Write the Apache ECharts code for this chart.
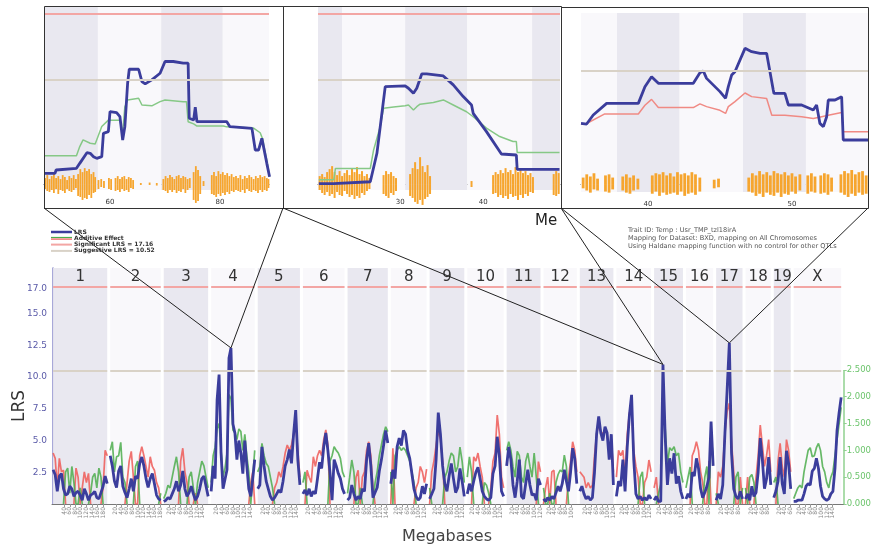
<!DOCTYPE html>
<html>
<head>
<meta charset="utf-8">
<title>LRS genome scan</title>
<script src="https://cdn.jsdelivr.net/npm/echarts@6/dist/echarts.min.js"></script>
<style>
  html, body { margin: 0; padding: 0; background: #fff; }
  #main { width: 874px; height: 550px; }
</style>
</head>
<body>
<div id="main"></div>
<script>
// ---- data ----
var chrNames   = ['1','2','3','4','5','6','7','8','9','10','11','12','13','14','15','16','17','18','19','X'];
var chrLengths = [195,182,160,157,152,150,145,129,125,131,122,120,121,125,104,98,95,91,61,171];
var sigLRS = 17.16, sugLRS = 10.52;
var lrsTicks = [2.5, 5, 7.5, 10, 12.5, 15, 17];
var addTicks = [0, 0.5, 1, 1.5, 2, 2.5];

// LRS samples along each chromosome (evenly spaced from 0 to chromosome end)
var lrsByChr = [
  [2.7,2.3,1.0,2.2,2.4,1.2,0.7,0.8,1.4,1.2,0.6,0.9,1.0,0.7,0.3,1.2,0.8,0.3,0.7,0.8,1.0,0.5,0.4,0.9,1.4,2.2,1.6],
  [3.8,3.0,1.8,1.3,2.6,3.0,1.4,0.9,0.5,1.2,2.0,1.0,2.2,2.0,3.2,3.7,3.0,2.0,1.3,2.0,2.4,1.6,0.7,0.4,0.3],
  [0.2,0.3,0.5,0.4,0.8,1.2,1.8,1.0,1.5,2.6,1.2,0.6,0.9,1.4,0.8,0.3,0.6,1.2,2.0,2.2,1.4,0.6],
  [1.0,3.0,2.0,8.2,10.2,4.0,1.2,1.1,2.7,11.5,12.3,6.3,5.6,3.5,5.0,4.0,2.4,5.0,3.0,1.2,0.6,2.0,3.5],
  [1.2,1.5,4.5,3.0,1.8,1.2,0.6,0.3,0.5,0.8,1.1,0.9,1.8,3.0,3.5,4.3,3.2,5.5,7.4,3.5,1.5],
  [0.8,1.1,0.7,1.2,0.6,1.0,0.8,2.0,3.3,2.8,4.5,5.6,4.2,2.5,0.3,3.5,3.0,2.4,2.0,1.2,0.8],
  [0.3,0.5,1.5,0.8,0.3,0.6,0.4,1.2,1.0,3.5,4.8,3.0,0.5,0.9,1.3,2.6,3.5,4.6,5.8,4.8],
  [1.6,2.7,2.0,4.5,5.2,4.6,5.8,5.5,4.2,3.6,2.4,1.2,0.6,0.3,0.5,1.4,0.8,1.6],
  [0.4,0.8,1.2,3.5,7.2,5.5,3.0,1.6,1.0,2.2,3.2,2.0,0.9,1.3,2.8,1.8,0.6],
  [0.8,1.6,1.0,1.8,2.5,2.9,2.0,1.0,0.6,0.4,0.3,0.5,2.4,3.0,5.3,3.8,1.0,0.6],
  [3.0,4.5,3.5,1.5,0.5,1.8,3.5,0.6,0.4,1.6,2.7,1.5,0.7,0.8,0.3,2.0,1.5],
  [0.4,0.2,0.5,0.3,0.6,0.4,0.9,1.4,1.0,1.6,2.7,1.8,1.0,2.5,4.4,3.6,1.6],
  [1.0,1.4,0.8,0.4,0.6,0.3,0.5,2.5,5.5,6.9,5.6,5.0,6.1,5.6,3.5,5.5,1.5],
  [0.6,1.8,1.4,3.5,1.0,4.5,7.0,8.6,3.5,0.8,0.4,0.6,0.3,0.5,0.3,0.7,0.4],
  [0.3,0.6,0.2,0.2,11.0,5.3,1.5,3.6,2.4,4.0,1.6,2.2,1.0,0.4],
  [0.4,0.8,0.5,2.5,2.2,3.6,2.8,1.2,0.5,0.9,1.4,2.1,6.5,3.0],
  [0.3,0.8,0.4,1.5,5.6,9.0,12.7,4.0,1.2,0.6,0.4,1.0,0.4],
  [0.4,0.8,0.3,1.4,0.6,0.9,2.5,5.2,3.5,1.2,2.0,3.7,1.5],
  [0.5,1.0,1.8,3.7,1.6,0.8,4.2,3.2,1.2],
  [0.2,0.2,0.3,0.3,0.3,0.8,1.4,1.6,1.5,2.6,2.8,3.6,2.8,1.4,0.6,0.4,0.3,0.4,0.8,1.0,2.8,5.8,7.2,8.4]
];

// additive effect samples: positive drawn green, negative drawn red
var addByChr = [
  [-0.95,-0.85,-0.3,-0.85,-0.6,-0.63,0.6,0.67,0.2,0.7,0.4,-0.67,-0.5,0.3,-0.3,-0.6,-0.4,-0.57,0.2,0.5,0.57,0.3,0.67,0.5,-0.3,-1.0,-0.9],
  [1.0,1.16,0.6,0.88,0.9,1.15,0.5,0.4,-0.4,-0.8,-0.98,-0.5,0.7,0.8,-0.9,-1.07,-0.9,-0.7,-0.5,-0.88,-0.7,-0.63,-0.4,-0.3,0.2],
  [0.1,0.2,0.35,0.3,0.5,0.7,0.88,0.6,-0.8,-1.04,-0.6,-0.4,0.5,0.6,0.3,-0.2,0.4,0.6,0.8,0.71,0.5,0.3],
  [0.4,0.9,1.06,1.4,1.5,1.0,0.5,0.67,0.95,2.04,1.96,1.38,1.33,1.2,1.4,1.35,1.0,1.3,0.9,0.6,-0.4,-0.6,1.0],
  [0.6,0.7,1.13,0.9,0.76,0.7,0.5,0.3,-0.3,-0.4,-0.6,-0.5,-0.7,-0.95,-1.1,-1.0,-1.1,-1.3,-1.5,-1.0,-0.5],
  [0.4,0.6,-0.63,-0.5,-0.4,-0.88,-0.7,-0.9,-1.0,-0.9,-1.2,-1.38,-1.1,0.8,0.9,1.07,1.0,0.95,0.85,0.6,0.5],
  [0.2,0.5,0.82,0.6,-0.5,-0.63,0.3,-0.5,-0.6,-1.0,-1.16,-0.9,-0.3,0.4,0.6,0.9,1.1,1.3,1.44,1.35],
  [0.6,-1.04,0.9,1.0,1.07,1.0,1.05,1.0,0.9,0.8,0.6,0.4,-0.3,-0.4,-0.7,-0.6,-0.4,-0.65],
  [0.3,-0.6,-0.8,-1.1,-1.38,-1.2,-0.8,0.5,0.6,0.8,0.95,0.9,0.6,0.7,1.06,0.8,0.4],
  [0.5,0.88,0.6,-0.88,-0.8,-0.95,-0.7,-0.5,0.4,0.35,0.2,-0.3,-0.8,-0.95,-1.66,-1.3,-0.5,-0.3],
  [1.0,1.16,1.0,0.7,0.5,0.98,0.9,0.5,0.4,0.8,0.95,0.7,0.5,0.95,0.5,-0.79,-0.6],
  [0.3,-0.3,-0.5,0.2,-0.6,-0.63,0.4,0.55,0.63,0.6,0.91,0.7,-0.5,-0.8,-1.16,-1.0,-0.6],
  [-0.6,-0.55,-0.5,-0.3,-0.4,-0.3,-0.35,-0.9,-1.3,-1.5,-1.35,-1.3,-1.4,-1.3,-1.0,-1.2,-0.6],
  [-0.5,-1.0,-0.9,-1.0,-0.5,-1.3,-1.7,-1.75,-1.0,-0.7,-0.5,0.5,0.6,-0.4,-0.5,-0.82,-0.6],
  [-0.3,-0.5,0.2,0.37,1.82,1.4,0.75,1.05,1.0,1.07,0.9,0.95,0.6,0.4],
  [0.3,0.5,0.69,-0.9,-1.0,-1.16,-1.0,-0.6,-0.4,0.5,0.7,-0.8,1.25,0.9],
  [0.2,-0.6,-0.5,-0.7,-1.32,-1.73,-1.88,-1.15,-0.6,0.5,0.6,-0.5,0.3],
  [0.3,-0.5,0.5,0.55,0.4,-0.5,-0.9,-1.47,-1.1,-0.7,-0.9,-1.2,-0.6],
  [0.4,0.5,-0.8,-1.13,-0.7,-0.5,-1.2,-1.0,-0.6],
  [0.1,0.2,0.3,0.35,0.3,0.6,0.8,1.0,1.05,0.88,0.9,1.05,1.13,1.0,0.7,0.6,0.4,0.3,0.5,0.6,0.9,1.2,1.5,1.8]
];

// zoomed panels: [Mb, LRS], [Mb, additive], [Mb, snp up, snp down]
var insetLrs1 = [[48.0,1.07],[50.0,1.07],[50.2,1.41],[53.9,1.58],[54.5,2.08],[55.8,3.15],[56.4,3.09],[57.0,2.75],[57.6,2.58],[58.5,2.75],[58.8,5.1],[59.7,5.27],[60.0,7.28],[61.2,7.18],[61.8,6.78],[62.3,4.43],[62.7,5.77],[63.2,10.13],[63.5,11.54],[65.2,11.54],[65.8,10.3],[66.4,10.07],[67.6,10.47],[69.1,11.14],[70.0,12.32],[71.5,12.32],[73.3,12.15],[74.2,12.15],[74.4,6.61],[75.2,6.44],[75.5,7.72],[75.8,6.28],[77.0,6.28],[81.2,6.28],[81.8,5.77],[85.8,5.6],[86.4,3.42],[87.0,3.42],[87.6,4.6],[87.9,3.76],[88.5,2.08],[89.0,0.74]];
var insetAdd1 = [[48.0,0.67],[53.9,0.67],[54.5,0.89],[55.1,1.05],[56.4,0.97],[57.3,0.95],[58.5,1.37],[59.7,1.52],[60.0,1.56],[61.8,1.52],[62.3,1.21],[62.7,1.84],[63.2,2.0],[63.5,2.04],[65.2,2.04],[65.8,1.88],[67.6,1.86],[69.1,1.96],[70.0,2.0],[73.3,1.96],[73.9,1.96],[74.2,1.48],[75.2,1.43],[75.8,1.38],[80.6,1.38],[81.2,1.36],[86.1,1.33],[87.3,1.22],[87.8,1.05],[88.0,0.89],[88.5,0.57],[89.0,0.17]];
var insetSnp1 = [[48.2,.6,.5],[48.6,.9,.7],[49.0,.5,.8],[49.4,.8,.6],[49.8,1.0,.9],[50.2,.6,.5],[50.6,.8,1.0],[51.0,.5,.6],[51.4,.9,.7],[51.8,.7,.9],[52.2,.4,.5],[52.6,.8,.7],[53.0,.6,.8],[53.4,.9,.6],[53.8,.5,.4],
  [54.2,1.0,1.2],[54.6,1.5,1.3],[55.0,1.2,1.6],[55.4,1.6,1.4],[55.8,1.3,1.5],[56.2,1.5,1.1],[56.6,1.0,1.4],[57.0,1.2,.9],[57.3,.7,.8],
  [57.9,.4,.5],[58.4,.5,.3],[58.9,.3,.4],[59.8,.6,.5],[60.2,.5,.6],
  [61.0,.6,.7],[61.4,.8,.6],[61.8,.5,.8],[62.2,.7,.5],[62.6,.8,.7],[63.0,.5,.6],[63.4,.7,.8],[63.8,.6,.4],[64.2,.4,.5],
  [65.6,.1,.1],[67.2,.15,.1],[68.5,.1,.15],
  [69.7,.5,.6],[70.1,.8,.7],[70.5,.6,.9],[70.9,.9,.6],[71.3,.7,.8],[71.7,.5,.6],[72.1,.8,.9],[72.5,.9,.7],[72.9,.6,.8],[73.3,.8,.5],[73.7,.7,.9],[74.1,.5,.6],[74.5,.6,.4],
  [75.2,1.2,1.6],[75.6,1.8,1.9],[76.0,1.4,1.7],[76.4,.8,1.0],[77.0,.3,.2],
  [78.5,.9,1.0],[78.9,1.2,1.1],[79.3,.8,1.3],[79.7,1.3,1.0],[80.1,1.0,1.2],[80.5,1.2,.9],[80.9,.9,1.1],[81.3,1.1,.8],[81.7,.8,1.0],[82.1,1.0,.7],
  [82.5,.7,.8],[82.9,.8,.6],[83.3,.6,.7],[83.7,.9,.8],[84.1,.5,.6],[84.5,.8,.9],[84.9,.6,.5],[85.3,.9,.7],[85.7,.7,.8],[86.1,.5,.6],[86.5,.8,.7],[86.9,.6,.9],[87.3,.9,.6],[87.7,.7,.8],[88.1,.8,.6],[88.5,.6,.7],[88.8,.5,.4]];

var insetLrs2 = [[20.2,0.05],[22.0,0.05],[22.2,0.23],[26.4,0.23],[26.6,0.4],[27.2,3.09],[27.6,5.77],[28.2,9.8],[30.6,9.87],[31.0,9.63],[31.6,9.13],[32.0,9.63],[32.2,9.73],[32.6,11.07],[33.2,11.07],[35.2,10.87],[36.4,9.97],[37.6,8.79],[38.6,7.95],[38.8,7.11],[40.4,5.27],[42.2,3.02],[44.0,2.92],[44.1,1.48],[49.2,1.48]];
var insetAdd2 = [[20.2,0.10],[22.0,0.10],[22.2,0.37],[26.4,0.37],[26.8,0.81],[27.6,1.37],[28.0,1.80],[29.2,1.83],[30.6,1.86],[31.0,1.88],[31.6,1.76],[32.0,1.84],[32.4,1.90],[34.0,1.94],[35.2,2.0],[36.4,1.88],[38.0,1.72],[38.8,1.60],[40.4,1.33],[42.0,1.13],[43.6,1.01],[44.0,1.01],[44.1,0.75],[49.2,0.75]];
var insetSnp2 = [[20.3,.8,.6],[20.6,1.0,.9],[20.9,.7,1.1],[21.2,1.2,.8],[21.5,1.5,1.2],[21.8,1.8,1.0],[22.1,1.2,1.4],[22.4,.9,.8],[22.7,1.3,1.1],[23.0,.8,1.2],[23.3,1.1,.7],[23.6,1.4,1.0],[23.9,.9,1.3],[24.2,1.6,1.1],[24.5,1.2,1.5],[24.8,1.7,1.2],[25.1,1.0,1.4],[25.4,1.3,.9],[25.7,.8,1.1],[26.0,1.0,.7],[26.3,.6,.5],
  [28.0,.9,1.0],[28.3,1.3,1.2],[28.6,1.0,1.4],[28.9,1.2,.9],[29.2,.8,1.1],[29.5,.6,.7],
  [31.2,1.0,1.2],[31.5,1.6,1.4],[31.8,2.2,1.8],[32.1,1.5,2.0],[32.4,2.7,1.6],[32.7,1.8,2.1],[33.0,1.2,1.5],[33.3,1.9,1.3],[33.6,.8,1.0],
  [38.6,.3,.3],
  [41.2,.9,1.0],[41.5,1.2,.9],[41.8,1.0,1.3],[42.1,1.4,1.1],[42.4,1.1,1.4],[42.7,1.6,1.2],[43.0,1.2,1.5],[43.3,1.4,1.0],[43.6,1.0,1.3],[43.9,1.7,1.2],[44.2,1.2,1.6],[44.5,1.5,1.1],[44.8,1.1,1.4],[45.1,1.3,1.0],[45.4,.9,1.2],[45.7,1.1,.8],[46.0,.7,.9],
  [48.5,1.0,1.1],[48.8,1.3,1.2],[49.1,1.1,1.0]];

var insetLrs3 = [[35.35,5.63],[35.74,5.57],[36.2,6.41],[37.13,7.49],[39.33,7.49],[39.79,9.04],[40.25,9.97],[40.72,9.35],[43.15,9.35],[43.61,10.34],[43.84,10.5],[44.07,9.81],[45.0,8.58],[45.39,7.96],[45.58,9.04],[45.81,10.12],[46.04,10.43],[46.74,12.6],[47.2,12.29],[47.78,12.14],[48.24,12.14],[48.7,8.73],[48.75,8.42],[49.51,8.42],[49.75,7.34],[50.67,7.34],[51.48,6.87],[51.71,7.34],[51.94,5.63],[52.18,5.33],[52.41,6.25],[52.52,7.8],[52.99,7.8],[53.45,8.11],[53.56,4.09],[55.3,4.09]];
var insetAdd3 = [[35.35,-1.32],[35.74,-1.33],[37.0,-1.54],[39.33,-1.54],[39.79,-1.73],[40.25,-1.86],[40.72,-1.68],[43.15,-1.68],[43.61,-1.76],[44.07,-1.70],[45.0,-1.62],[45.39,-1.55],[45.58,-1.70],[46.04,-1.81],[46.74,-2.0],[47.2,-1.92],[48.24,-1.88],[48.6,-1.51],[49.51,-1.51],[50.67,-1.48],[51.48,-1.44],[52.06,-1.48],[52.52,-1.51],[53.45,-1.57],[53.56,-1.15],[55.3,-1.15]];
var insetSnp3 = [[35.5,.6,.4],[35.75,.9,.6],[36.0,.7,.8],[36.25,1.0,.5],[36.5,.5,.6],
  [37.05,.8,.7],[37.3,.9,.8],[37.55,.6,.5],
  [38.25,.7,.6],[38.5,.9,.8],[38.75,.6,.9],[39.0,.8,.6],[39.3,.5,.5],
  [40.3,.8,.9],[40.55,1.0,.7],[40.8,.9,1.1],[41.05,1.1,.8],[41.3,.8,1.0],[41.55,1.0,.9],[41.8,.7,.8],[42.05,1.1,1.0],[42.3,.9,.7],[42.55,1.0,1.1],[42.8,.8,.9],[43.05,1.1,.8],[43.3,.9,1.0],[43.6,.6,.7],
  [44.6,.4,.4],[44.9,.5,.3],
  [47.0,.6,.7],[47.25,1.0,.8],[47.5,.8,1.1],[47.75,1.2,.9],[48.0,.9,1.2],[48.25,1.1,.8],[48.5,.8,1.0],[48.75,1.2,1.1],[49.0,1.0,.8],[49.25,.9,1.2],[49.5,1.1,.9],[49.75,.8,1.0],[50.0,1.0,.7],[50.25,.7,.9],[50.55,.9,.6],
  [51.1,.8,.9],[51.35,1.0,.7],[51.6,.7,.8],
  [52.0,.8,.9],[52.25,1.0,.8],[52.5,.9,1.0],[52.75,.6,.7],
  [53.4,.9,.8],[53.65,1.2,1.0],[53.9,1.0,1.2],[54.15,1.3,.9],[54.4,.9,1.1],[54.65,1.1,.8],[54.9,1.2,1.0],[55.15,.8,.9]];

var traitLines = [
  'Trait ID: Temp : Usr_TMP_tzl18irA',
  'Mapping for Dataset: BXD, mapping on All Chromosomes',
  'Using Haldane mapping function with no control for other QTLs'
];

// ---- layout / style ----
var FONT = 'DejaVu Sans';
var BLUE = '#3b3d9c', GREEN = '#4cad4c', RED = '#ee5a57';
var SHADE = '#e9e8f0', LIGHT = '#f9f8fb';
var SIG_COLOR = '#f3a6a4', SUG_COLOR = '#d9d2c7';
var chrGap = 10.8;           // white gap between chromosomes, in Mb
var lrsPerAdd = 4.227;       // LRS units per additive unit on screen

var chrStart = [];
var pos = 0;
chrLengths.forEach(function (len) { chrStart.push(pos); pos += len + chrGap; });
var xMin = -4, xMax = chrStart[19] + chrLengths[19] + 9;
var lrsMax = 18.6;

function sampleX(k, i, n) { return chrStart[k] + chrLengths[k] * i / (n - 1); }

var lrsData = [];
chrNames.forEach(function (name, k) {
  var v = lrsByChr[k];
  v.forEach(function (y, i) { lrsData.push([sampleX(k, i, v.length), y]); });
  lrsData.push([chrStart[k] + chrLengths[k] + chrGap / 2, '-']);
});

function additiveData(sign) {
  var out = [];
  chrNames.forEach(function (name, k) {
    var v = addByChr[k], n = v.length;
    for (var i = 0; i < n; i++) {
      var a = v[i] * sign;
      var x = sampleX(k, i, n);
      if (a > 0) out.push([x, a]);
      else if ((i > 0 && v[i - 1] * sign > 0) || (i < n - 1 && v[i + 1] * sign > 0)) out.push([x, 0]);
      else out.push([x, '-']);
    }
    out.push([chrStart[k] + chrLengths[k] + chrGap / 2, '-']);
  });
  return out;
}

// tick labels every 20 Mb within each chromosome
var xTickVals = [], xTickText = {};
chrNames.forEach(function (name, k) {
  for (var m = 20; m < chrLengths[k]; m += 20) {
    var v = chrStart[k] + m;
    xTickVals.push(v);
    xTickText[v.toFixed(2)] = String(m);
  }
});

var bandData = chrNames.map(function (name, k) {
  return [{ name: name, xAxis: chrStart[k], itemStyle: { color: k % 2 === 0 ? SHADE : LIGHT } },
          { xAxis: chrStart[k] + chrLengths[k] }];
});
var thrData = [];
chrNames.forEach(function (name, k) {
  var s = chrStart[k], e = s + chrLengths[k];
  thrData.push([{ coord: [s, sigLRS], lineStyle: { color: SIG_COLOR } }, { coord: [e, sigLRS] }]);
  thrData.push([{ coord: [s, sugLRS], lineStyle: { color: SUG_COLOR } }, { coord: [e, sugLRS] }]);
});

var grids = [{ left: 52, right: 29, top: 268, bottom: 46 }];
var xAxes = [{
  gridIndex: 0, type: 'value', min: xMin, max: xMax,
  axisLine: { onZero: false, lineStyle: { color: '#777' } },
  axisTick: { customValues: xTickVals, length: 3, lineStyle: { color: '#999' } },
  axisLabel: {
    customValues: xTickVals, rotate: 90, fontSize: 6, color: '#888', margin: 3,
    formatter: function (v) { return xTickText[v.toFixed(2)] || ''; }
  },
  splitLine: { show: false }
}];
var yAxes = [{
  gridIndex: 0, type: 'value', min: 0, max: lrsMax,
  axisLine: { show: true, lineStyle: { color: '#8b8bcb', width: 1.5 } },
  axisTick: { show: false },
  axisLabel: { customValues: lrsTicks, fontSize: 9, color: '#5a5aa8', margin: 5,
               formatter: function (v) { return v.toFixed(1); } },
  splitLine: { show: false }
}, {
  gridIndex: 0, type: 'value', position: 'right', min: 0, max: lrsMax / lrsPerAdd,
  axisLine: { show: false },
  axisTick: { customValues: addTicks, show: true, length: 3, lineStyle: { color: '#8fd08f' } },
  axisLabel: { customValues: addTicks, fontSize: 8.5, color: '#6cc46c', margin: 3,
               formatter: function (v) { return v.toFixed(3); } },
  splitLine: { show: false }
}];

var series = [{
  type: 'line', xAxisIndex: 0, yAxisIndex: 0, data: [], z: 1, silent: true,
  markArea: {
    silent: true, data: bandData,
    label: { show: true, position: 'insideTop', distance: 2, fontSize: 15, color: '#333', fontFamily: FONT }
  },
  markLine: { silent: true, symbol: ['none', 'none'], label: { show: false },
              lineStyle: { width: 2, type: 'solid' }, data: thrData }
}, {
  type: 'line', xAxisIndex: 0, yAxisIndex: 1, data: additiveData(-1), z: 3,
  showSymbol: false, lineStyle: { color: RED, width: 1.7, opacity: 0.85 }
}, {
  type: 'line', xAxisIndex: 0, yAxisIndex: 1, data: additiveData(1), z: 3,
  showSymbol: false, lineStyle: { color: GREEN, width: 1.7, opacity: 0.85 }
}, {
  type: 'line', xAxisIndex: 0, yAxisIndex: 0, data: lrsData, z: 4,
  showSymbol: false, lineStyle: { color: BLUE, width: 2.8 }
}, {
  type: 'line', xAxisIndex: 0, yAxisIndex: 1, data: [], z: 5, silent: true,
  markLine: { silent: true, symbol: ['none', 'none'], label: { show: false },
              lineStyle: { color: '#8fd08f', width: 1.5, type: 'solid' },
              data: [[{ coord: [xMax, 0] }, { coord: [xMax, 2.5] }]] }
}];

// zoomed panels
var insetLrs = [insetLrs1, insetLrs2, insetLrs3];
var insetAdd = [insetAdd1, insetAdd2, insetAdd3];
var insetSnp = [insetSnp1, insetSnp2, insetSnp3];
var insets = [
  { box: [44, 6, 239, 202], grid: { left: 44, top: 7, width: 225, height: 183 }, x: [48, 88.9], y: [-0.6, 17.8],
    ticks: [60, 80], bands: [[48, 57.8, 1], [57.8, 69.3, 0], [69.3, 80.5, 1], [80.5, 88.9, 0]],
    lines: [sigLRS, sugLRS], addColor: '#86c886', peakChr: 3, barW: 1.8 },
  { box: [283, 6, 278, 202], grid: { left: 318, top: 7, width: 242, height: 183 }, x: [20.1, 49.26], y: [-0.6, 17.8],
    ticks: [30, 40], bands: [[20.1, 23, 1], [23, 30.6, 0], [30.6, 38.1, 1], [38.1, 45.9, 0], [45.9, 49.26, 1]],
    lines: [sigLRS, sugLRS], addColor: '#86c886', peakChr: 14, barW: 2 },
  { box: [561, 7, 307, 201], grid: { left: 581, top: 13, width: 287, height: 179 }, x: [35.35, 55.28], y: [-0.74, 15.88],
    ticks: [40, 50], bands: [[35.35, 37.85, 0], [37.85, 42.2, 1], [42.2, 46.6, 0], [46.6, 50.97, 1], [50.97, 55.28, 0]],
    lines: [sugLRS], addColor: '#f08a84', peakChr: 16, barW: 2.8 }
];

insets.forEach(function (L, j) {
  var gi = j + 1;
  grids.push(L.grid);
  xAxes.push({
    gridIndex: gi, type: 'value', min: L.x[0], max: L.x[1],
    axisLine: { onZero: true, lineStyle: { color: '#555', width: 1 } },
    axisTick: { customValues: L.ticks, length: 6, lineStyle: { color: '#111', width: 2 } },
    axisLabel: { customValues: L.ticks, fontSize: 7, color: '#333', margin: 9 },
    splitLine: { show: false }
  });
  var yl = yAxes.length;
  yAxes.push({ gridIndex: gi, type: 'value', min: L.y[0], max: L.y[1], show: false });
  yAxes.push({ gridIndex: gi, type: 'value', min: L.y[0] / lrsPerAdd, max: L.y[1] / lrsPerAdd, show: false });
  yAxes.push({ gridIndex: gi, type: 'value', min: L.y[0], max: L.y[1], show: false });

  series.push({
    type: 'line', xAxisIndex: gi, yAxisIndex: yl, data: [], z: 1, silent: true,
    markArea: { silent: true, data: L.bands.map(function (b) {
      return [{ xAxis: b[0], itemStyle: { color: b[2] ? SHADE : LIGHT } }, { xAxis: b[1] }];
    }) },
    markLine: { silent: true, symbol: ['none', 'none'], label: { show: false },
      data: L.lines.map(function (v) {
        return { yAxis: v, lineStyle: { color: v === sigLRS ? SIG_COLOR : SUG_COLOR, width: 2, type: 'solid' } };
      }) }
  });
  series.push({
    type: 'bar', xAxisIndex: gi, yAxisIndex: yl + 2, stack: 'snp' + j, barWidth: L.barW, z: 2, silent: true, clip: false,
    itemStyle: { color: '#f6a52e' }, data: insetSnp[j].map(function (d) { return [d[0], d[1]]; })
  });
  series.push({
    type: 'bar', xAxisIndex: gi, yAxisIndex: yl + 2, stack: 'snp' + j, barWidth: L.barW, z: 2, silent: true, clip: false,
    itemStyle: { color: '#f6a52e' }, data: insetSnp[j].map(function (d) { return [d[0], -d[2]]; })
  });
  series.push({
    type: 'line', xAxisIndex: gi, yAxisIndex: yl + 1, z: 3, showSymbol: false,
    lineStyle: { color: L.addColor, width: 1.5 },
    data: insetAdd[j].map(function (d) { return [d[0], Math.abs(d[1])]; })
  });
  series.push({
    type: 'line', xAxisIndex: gi, yAxisIndex: yl, z: 4, showSymbol: false,
    lineStyle: { color: BLUE, width: 2.8 }, data: insetLrs[j]
  });
});

var chart = echarts.init(document.getElementById('main'));
chart.setOption({
  animation: false,
  backgroundColor: '#fff',
  textStyle: { fontFamily: FONT },
  grid: grids, xAxis: xAxes, yAxis: yAxes, series: series
});

// annotations: boxes, connectors, legend, texts
var g = [];
insets.forEach(function (L) {
  var b = L.box;
  g.push({ type: 'rect', z: 50, shape: { x: b[0] + 0.5, y: b[1] + 0.5, width: b[2], height: b[3] },
           style: { fill: 'none', stroke: '#333', lineWidth: 1 } });
  var k = L.peakChr, v = lrsByChr[k], best = 0;
  v.forEach(function (y, i) { if (y > v[best]) best = i; });
  var p = chart.convertToPixel({ gridIndex: 0 }, [sampleX(k, best, v.length), v[best]]);
  var bottom = b[1] + b[3];
  [b[0], b[0] + b[2]].forEach(function (cx) {
    g.push({ type: 'line', z: 60, shape: { x1: cx, y1: bottom, x2: p[0], y2: p[1] },
             style: { stroke: '#222', lineWidth: 1 } });
  });
});

var legendRows = [
  { text: 'LRS', colors: [BLUE], width: 2.5 },
  { text: 'Additive Effect', colors: [GREEN, RED], width: 1.2 },
  { text: 'Significant LRS = 17.16', colors: [SIG_COLOR], width: 2 },
  { text: 'Suggestive LRS = 10.52', colors: [SUG_COLOR], width: 2 }
];
legendRows.forEach(function (r, i) {
  var y = 232 + i * 6.3;
  r.colors.forEach(function (c, ci) {
    var dy = r.colors.length > 1 ? (ci ? 0.8 : -0.8) : 0;
    g.push({ type: 'line', z: 40, shape: { x1: 51, y1: y + dy, x2: 72, y2: y + dy },
             style: { stroke: c, lineWidth: r.width } });
  });
  g.push({ type: 'text', z: 40, x: 74, y: y,
           style: { text: r.text, fontSize: 6, fontWeight: 'bold', fill: '#333', verticalAlign: 'middle', fontFamily: FONT } });
});
traitLines.forEach(function (t, i) {
  g.push({ type: 'text', z: 40, x: 628, y: 230 + i * 8,
           style: { text: t, fontSize: 6.6, fill: '#555', verticalAlign: 'middle', fontFamily: FONT } });
});
g.push({ type: 'text', z: 40, x: 20, y: 406, rotation: Math.PI / 2,
         style: { text: 'LRS', fontSize: 17, fill: '#333', align: 'center', verticalAlign: 'middle', fontFamily: FONT } });
g.push({ type: 'text', z: 40, x: 447, y: 537,
         style: { text: 'Megabases', fontSize: 16, fill: '#444', align: 'center', verticalAlign: 'middle', fontFamily: FONT } });
g.push({ type: 'text', z: 40, x: 535, y: 221,
         style: { text: 'Me', fontSize: 15, fill: '#222', verticalAlign: 'middle', fontFamily: FONT } });

chart.setOption({ graphic: { elements: g } });
</script>
</body>
</html>
